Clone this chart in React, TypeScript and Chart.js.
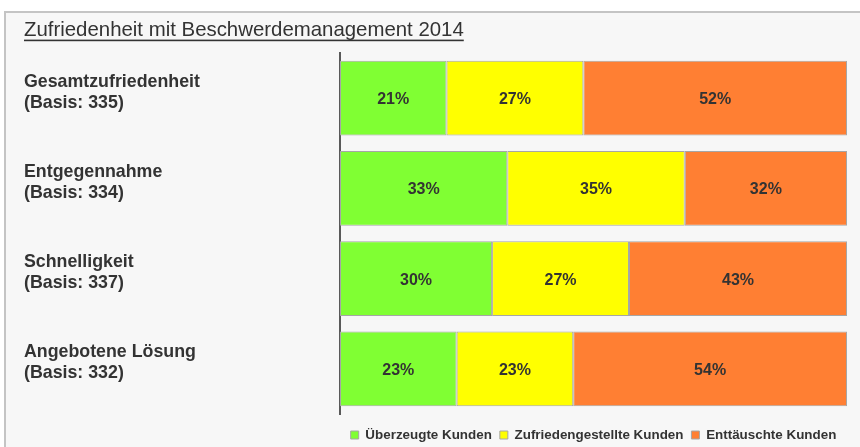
import React, { useEffect, useRef } from "react";
import { Chart, registerables } from "chart.js";

Chart.register(...registerables);

const titleText = "Zufriedenheit mit Beschwerdemanagement 2014";
const categories = [
  ["Gesamtzufriedenheit", "(Basis: 335)"],
  ["Entgegennahme", "(Basis: 334)"],
  ["Schnelligkeit", "(Basis: 337)"],
  ["Angebotene Lösung", "(Basis: 332)"],
];
const seriesNames = ["Überzeugte Kunden", "Zufriedengestellte Kunden", "Enttäuschte Kunden"];
const ueberzeugt = [21, 33, 30, 23];
const zufrieden = [27, 35, 27, 23];
const enttaeuscht = [52, 32, 43, 54];
const seriesColors = ["#80ff33", "#ffff00", "#ff7f33"];

const FONT = "'Liberation Sans', Arial, sans-serif";
const TITLE_SIZE = 20.4;
const TITLE_PAD_TOP = 17.8;

const percentLabels = {
  id: "percentLabels",
  afterDatasetsDraw(chart: any) {
    const ctx = chart.ctx;
    ctx.save();
    ctx.font = `bold 16px ${FONT}`;
    ctx.fillStyle = "#333333";
    ctx.textAlign = "center";
    ctx.textBaseline = "middle";
    chart.data.datasets.forEach((ds: any, di: number) => {
      const meta = chart.getDatasetMeta(di);
      meta.data.forEach((el: any, i: number) => {
        const v = ds.data[i];
        const cx = (el.x + el.base) / 2;
        ctx.fillText(`${v}%`, cx, el.y + 1.5);
      });
    });
    ctx.restore();
  },
};

const titleUnderline = {
  id: "titleUnderline",
  afterDraw(chart: any) {
    const tb = chart.titleBlock;
    if (!tb) return;
    const ctx = chart.ctx;
    ctx.save();
    ctx.font = `${TITLE_SIZE}px ${FONT}`;
    const w = ctx.measureText(titleText).width;
    const baseline = tb.top + TITLE_PAD_TOP + (TITLE_SIZE * 1.2) / 2 + 0.3465 * TITLE_SIZE;
    ctx.fillStyle = "#333333";
    ctx.fillRect(tb.left, baseline + 2.5, w, 1.6);
    ctx.restore();
  },
};

export default function App() {
  const canvasRef = useRef<HTMLCanvasElement | null>(null);

  useEffect(() => {
    if (!canvasRef.current) return;
    const seriesValues = [ueberzeugt, zufrieden, enttaeuscht];
    const chart = new Chart(canvasRef.current, {
      type: "bar",
      data: {
        labels: categories,
        datasets: seriesNames.map((name, i) => ({
          label: name,
          data: seriesValues[i],
          backgroundColor: seriesColors[i],
          borderColor: "#a6a6a6",
          borderWidth: 1,
          borderSkipped: false,
          barPercentage: 0.83,
          categoryPercentage: 1,
        })),
      },
      options: {
        indexAxis: "y",
        animation: false,
        responsive: false,
        maintainAspectRatio: false,
        devicePixelRatio: 1,
        events: [],
        layout: { padding: { left: 24, right: 13, top: 0, bottom: -4.7 } },
        scales: {
          x: {
            type: "linear",
            stacked: true,
            min: 0,
            max: 100,
            display: false,
          },
          y: {
            type: "category",
            stacked: true,
            grid: { display: false, drawTicks: false },
            border: { display: true, color: "#595959", width: 2 },
            ticks: {
              crossAlign: "far",
              labelOffset: -5.8,
              padding: 0,
              color: "#333333",
              font: { family: FONT, size: 17.8, weight: "bold", lineHeight: 1.18 },
            },
            afterFit: (scale: any) => {
              scale.width = 316;
            },
          },
        },
        plugins: {
          title: {
            display: true,
            text: titleText,
            align: "start",
            color: "#333333",
            font: { family: FONT, size: TITLE_SIZE, weight: "normal", lineHeight: 1.2 },
            padding: { top: TITLE_PAD_TOP, bottom: 10.7 },
          },
          legend: {
            display: true,
            position: "bottom",
            fullSize: false,
            align: "center",
            labels: {
              boxWidth: 8,
              boxHeight: 8,
              padding: 8,
              color: "#333333",
              font: { family: FONT, size: 13.4, weight: "bold" },
            },
            title: {
              display: true,
              text: "",
              font: { size: 1, lineHeight: 1 },
              padding: { top: 5.3, bottom: 0 },
            },
          },
          tooltip: { enabled: false },
        },
      },
      plugins: [percentLabels, titleUnderline],
    } as any);
    return () => chart.destroy();
  }, []);

  return (
    <div style={{ position: "fixed", left: 0, top: 0, width: 860, height: 447, background: "#ffffff", overflow: "hidden" }}>
      <div
        style={{
          position: "absolute",
          left: 4,
          top: 11,
          width: 870,
          height: 450,
          background: "#f7f7f7",
          borderLeft: "2px solid #c4c4c4",
          borderTop: "2px solid #c4c4c4",
        }}
      />
      <canvas
        ref={canvasRef}
        width={860}
        height={447}
        style={{ position: "absolute", left: 0, top: 0, width: 860, height: 447 }}
      />
    </div>
  );
}
